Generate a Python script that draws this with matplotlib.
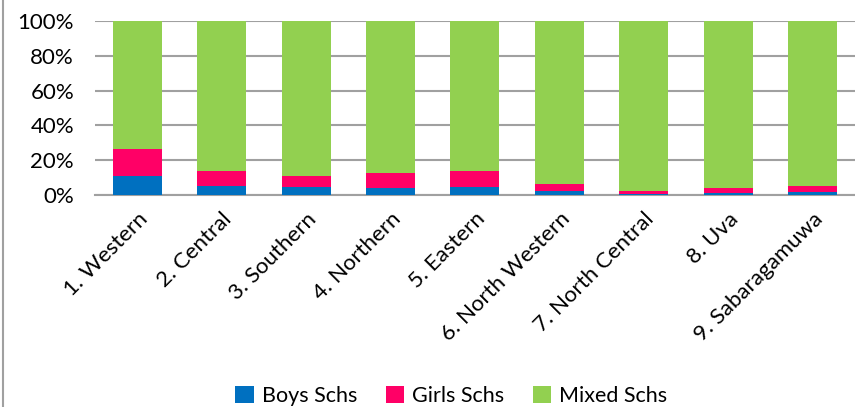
import numpy as np
import matplotlib
matplotlib.use("Agg")
from matplotlib import pyplot as plt
from matplotlib.lines import Line2D

regions = ["1. Western", "2. Central", "3. Southern", "4. Northern", "5. Eastern",
           "6. North Western", "7. North Central", "8. Uva", "9. Sabaragamuwa"]
boys = [10.9, 5.4, 4.8, 4.2, 4.5, 2.3, 0.8, 1.2, 1.9]
girls = [15.3, 8.1, 6.2, 8.4, 9.5, 3.9, 1.5, 3.0, 3.3]
mixed = [100 - b - g for b, g in zip(boys, girls)]

plt.rcParams['font.family'] = ['Lato', 'DejaVu Sans']

fig = plt.figure(figsize=(8.55, 4.07), dpi=100)
ax = fig.add_axes([0.111, 0.521, 0.889, 0.427])

x = np.arange(len(regions))
w = 0.58
ax.bar(x, boys, w, color="#0070C0", label="Boys Schs", zorder=3)
ax.bar(x, girls, w, bottom=boys, color="#FF0066", label="Girls Schs", zorder=3)
ax.bar(x, mixed, w, bottom=np.add(boys, girls), color="#92D050", label="Mixed Schs", zorder=3)

ax.set_xlim(-0.5, len(regions) - 0.5)
ax.set_ylim(0, 100)
ax.set_yticks(range(0, 101, 20))
ax.set_yticklabels([f"{v}%" for v in range(0, 101, 20)], fontsize=16)
ax.set_xticks(x)
ax.set_xticklabels(regions, rotation=45, ha="right", rotation_mode="anchor", fontsize=16)
ax.tick_params(axis="y", length=0, pad=15)
ax.tick_params(axis="x", length=0, pad=10)
ax.grid(axis="y", color="#A0A0A0", linewidth=1.5, zorder=0)
for s in ["top", "right", "left"]:
    ax.spines[s].set_visible(False)
ax.spines["bottom"].set_color("#A0A0A0")
ax.spines["bottom"].set_linewidth(1.5)

fig.legend(loc="center", bbox_to_anchor=(0.528, 0.027), ncol=3, frameon=False,
           fontsize=15.5, handlelength=0.85, handleheight=0.85, columnspacing=1.3, handletextpad=0.4)

fig.add_artist(Line2D([0.003, 0.003], [0, 1], color="#A0A0A0", linewidth=1.5))

fig.savefig("out.png", dpi=100)
